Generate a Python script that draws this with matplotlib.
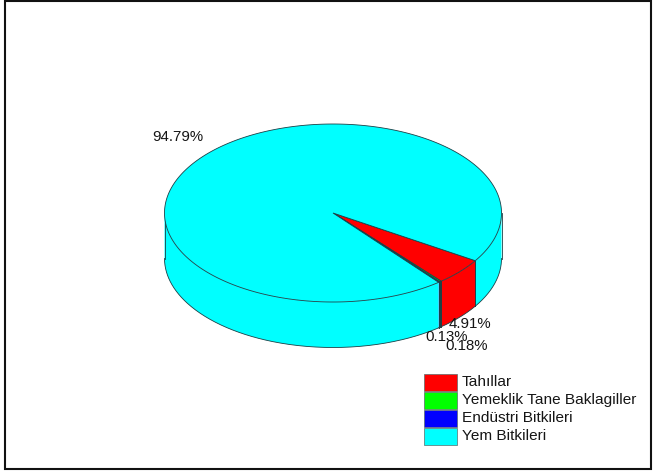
import numpy as np
import matplotlib
matplotlib.use("Agg")
import matplotlib.pyplot as plt
from matplotlib.patches import Polygon, Rectangle

plt.rcParams['font.family'] = ['Liberation Sans', 'DejaVu Sans']

categories = ["Tahıllar", "Yemeklik Tane Baklagiller", "Endüstri Bitkileri", "Yem Bitkileri"]
values = [4.91, 0.18, 0.13, 94.79]

colors = ["#ff0000", "#00ff00", "#0000ff", "#00ffff"]
LABEL_POS = [(449, 324), (445, 346), (425, 337), (152, 137)]

W, H = 653, 473
CX, CY, RX, RY, DEPTH = 333.0, 213.0, 168.5, 89.0, 45.5
START_DEG = -32.4
EDGE = "#1c3f46"
LW = 0.6
TEXT = "#151515"

fig = plt.figure(figsize=(W / 100, H / 100), dpi=100)
ax = fig.add_axes([0, 0, 1, 1])
ax.set_xlim(0, W)
ax.set_ylim(H, 0)
ax.axis("off")

# Outer frame
ax.add_patch(Rectangle((5, 1), 646, 468, fill=False, ec="#111111", lw=1.5))


def rim(a0, a1, n=300):
    t = np.radians(np.linspace(a0, a1, n))
    return CX + RX * np.cos(t), CY - RY * np.sin(t)


# Slice boundaries run clockwise from the start angle
sweeps = np.array(values) / sum(values) * 360
ends = START_DEG - np.cumsum(sweeps)
starts = ends + sweeps

# Outer wall, drawn only where the rim faces the viewer (lower half of the ellipse)
for a0, a1, c in zip(starts, ends, colors):
    for shift in (0, 360):
        s0, s1 = max(a1 + shift, -180), min(a0 + shift, 0)
        if s1 <= s0:
            continue
        x, y = rim(s0, s1)
        pts = np.r_[np.c_[x, y], np.c_[x[::-1], y[::-1] + DEPTH]]
        ax.add_patch(Polygon(pts, closed=True, fc=c, ec="none", zorder=2))
        ax.plot(x, y + DEPTH, color=EDGE, lw=LW, zorder=3)
        for xe, ye in ((x[0], y[0]), (x[-1], y[-1])):
            ax.plot([xe, xe], [ye, ye + DEPTH], color=EDGE, lw=LW, zorder=3)

# Top faces
for a0, a1, c in zip(starts, ends, colors):
    x, y = rim(a0, a1, 500)
    pts = np.r_[[[CX, CY]], np.c_[x, y]]
    ax.add_patch(Polygon(pts, closed=True, fc=c, ec=EDGE, lw=LW, zorder=4))

# Percentage labels
for v, (lx, ly) in zip(values, LABEL_POS):
    ax.text(lx, ly, f"{v:.2f}%", fontsize=10.8, color=TEXT, ha="left", va="center", zorder=6)

# Legend
for i, (name, c) in enumerate(zip(categories, colors)):
    y0 = 373.5 + i * 18
    ax.add_patch(Rectangle((424, y0), 33, 17.5, fc=c, ec="#5a6a6a", lw=0.5, zorder=5))
    ax.text(462, y0 + 8.5, name, fontsize=11.1, color=TEXT, ha="left", va="center", zorder=6)

fig.savefig("out.png", dpi=100)
